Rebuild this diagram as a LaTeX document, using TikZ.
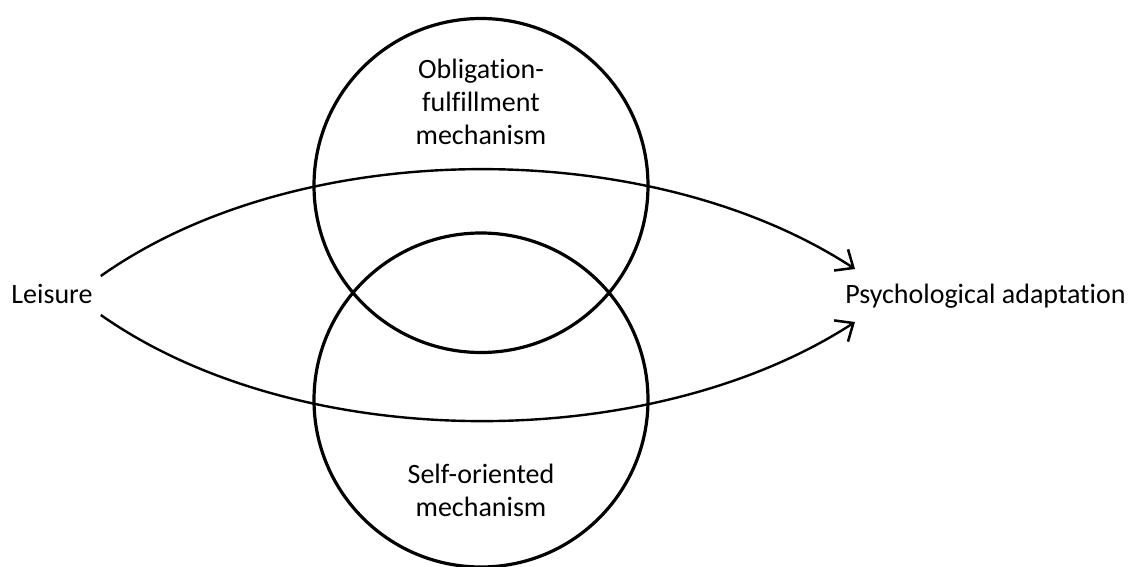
\documentclass[tikz,border=0pt]{standalone}
\usepackage{fontspec}
\setmainfont{Carlito}[Ligatures=NoCommon]
\usetikzlibrary{arrows.meta}
\begin{document}
\begin{tikzpicture}[x=0.75pt, y=-0.75pt,
	mech/.style={circle, draw, line width=2.4pt, minimum size=250.5pt, inner sep=0pt},
	mechtext/.style={align=center, font=\fontsize{21}{24.75}\selectfont},
	term/.style={inner sep=0pt, font=\fontsize{21}{24.75}\selectfont},
	flow/.style={line width=1.8pt, -{Straight Barb[length=11pt, width=19pt, line width=1.9pt]}}]
	\useasboundingbox (0,0) rectangle (1129,567);
	% the two mechanisms
	\node[mech] (oblig) at (481,185.5) {};
	\node[mech] (self) at (481,400) {};
	\node[mechtext] (obligtext) at (481,101.5) {Obligation-\\fulfillment\\mechanism};
	\node[mechtext] (selftext) at (481,490) {Self-oriented\\mechanism};
	% leisure and outcome
	\node[term, anchor=base] (leisure) at (52,303) {Leisure};
	\node[term, anchor=base west] (psych) at (845,303) {Psychological adaptation};
	\draw[flow] ([shift={(6pt,20.25pt)}]leisure.base east) .. controls (300,135) and (650,135) .. ([shift={(7.5pt,25.5pt)}]psych.base west);
	\draw[flow] ([shift={(6pt,-9pt)}]leisure.base east) .. controls (300,455) and (650,455) .. ([shift={(7.5pt,-14.25pt)}]psych.base west);
\end{tikzpicture}
\end{document}
